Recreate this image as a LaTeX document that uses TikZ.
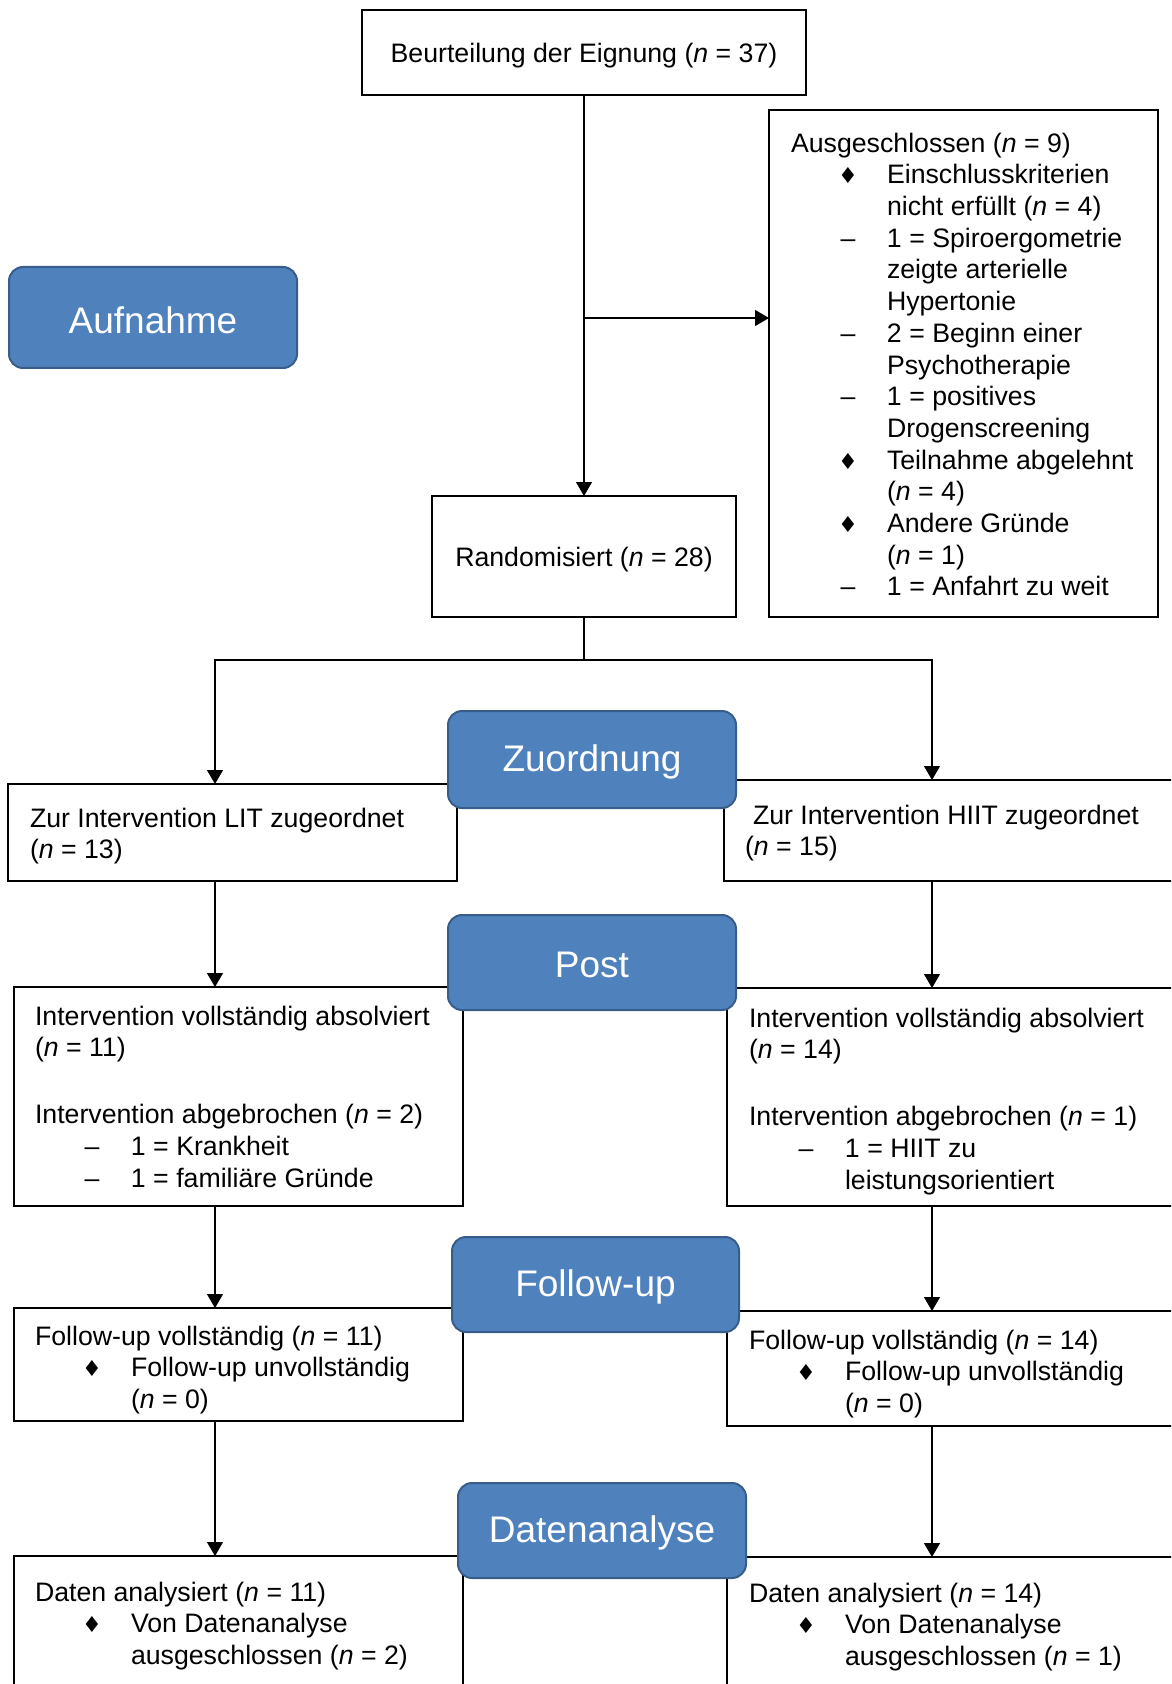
\documentclass[tikz,border=0pt]{standalone}
\usepackage{fontspec}
\setmainfont{Liberation Sans}
\newfontfamily\symf{DejaVu Sans}
\usetikzlibrary{arrows.meta}
\definecolor{stagefill}{HTML}{4F81BD}
\definecolor{stageline}{HTML}{385D8A}
\newcommand{\dia}{\hspace*{28.5pt}\makebox[0pt][c]{\symf\fontsize{11}{11}\selectfont ♦}\hspace*{19.5pt}}
\newcommand{\dsh}{\hspace*{28.5pt}\makebox[0pt][c]{–}\hspace*{19.5pt}}
\newcommand{\ind}{\hspace*{48pt}}
\newcommand{\nn}[1]{(\textit{n} = #1)}
\tikzset{
  box/.style={draw, line width=1.2pt, inner sep=0pt, outer sep=0pt, anchor=north west, fill=white},
  stage/.style={draw=stageline, line width=1pt, fill=stagefill, rounded corners=7pt, inner sep=0pt, outer sep=0pt,
    anchor=north west},
  stagetxt/.style={text=white, font=\fontsize{18.5}{22}\selectfont, inner sep=0pt, yshift=-1.3pt},
  ctxt/.style={font=\fontsize{13.35}{15.85}\selectfont, inner sep=0pt, yshift=-1.4pt},
  txt/.style={anchor=north west, inner sep=0pt, outer sep=0pt, align=left, font=\fontsize{13.35}{15.85}\selectfont},
  arr/.style={line width=0.6pt, -{Triangle[length=7pt,width=8pt]}},
  conn/.style={line width=0.6pt}
}
\begin{document}
\begin{tikzpicture}[x=0.5pt,y=-0.5pt]
\useasboundingbox (0,0) rectangle (1171,1684);
\clip (0,0) rectangle (1171,1684);
% boxes
\node[box, minimum width=222pt, minimum height=42.5pt] (top) at (362,10) {};
\node[ctxt] (toptxt) at (top.center) {Beurteilung der Eignung \nn{37}};
\node[box, minimum width=194.5pt, minimum height=253.5pt] (excl) at (769,110) {};
\node[box, minimum width=152pt, minimum height=60.5pt] (rand) at (432,496) {};
\node[ctxt] (randtxt) at (rand.center) {Randomisiert \nn{28}};
\node[box, minimum width=224.5pt, minimum height=48.5pt] (lit) at (8,784) {};
\node[box, minimum width=230pt, minimum height=50.5pt] (hiit) at (724,780) {};
\node[box, minimum width=224.5pt, minimum height=109.5pt] (postL) at (14,987) {};
\node[box, minimum width=230pt, minimum height=109pt] (postR) at (727,988) {};
\node[box, minimum width=224.5pt, minimum height=56.5pt] (fuL) at (14,1308) {};
\node[box, minimum width=230pt, minimum height=57.5pt] (fuR) at (727,1311) {};
\node[box, minimum width=224.5pt, minimum height=100pt] (daL) at (14,1556) {};
\node[box, minimum width=230pt, minimum height=100pt] (daR) at (727,1557) {};
% texts
\node[txt] (excltxt) at (791,130) {\strut Ausgeschlossen \nn{9}\\
\dia Einschlusskriterien\\
\ind nicht erfüllt \nn{4}\\
\dsh 1 = Spiroergometrie\\
\ind zeigte arterielle\\
\ind Hypertonie\\
\dsh 2 = Beginn einer\\
\ind Psychotherapie\\
\dsh 1 = positives\\
\ind Drogenscreening\\
\dia Teilnahme abgelehnt\\
\ind \nn{4}\\
\dia Andere Gründe\\
\ind \nn{1}\\
\dsh 1 = Anfahrt zu weit};
\node[txt] (littxt) at (30,805) {\strut Zur Intervention LIT zugeordnet\\ \nn{13}};
\node[txt] (hiittxt) at (745,802) {\strut\hspace*{4pt}Zur Intervention HIIT zugeordnet\\ \nn{15}};
\node[txt] (postLtxt) at (35,1003) {\strut Intervention vollständig absolviert\\ \nn{11}\\[17.5pt]
Intervention abgebrochen \nn{2}\\
\dsh 1 = Krankheit\\
\dsh 1 = familiäre Gründe};
\node[txt] (postRtxt) at (749,1005) {\strut Intervention vollständig absolviert\\ \nn{14}\\[17.5pt]
Intervention abgebrochen \nn{1}\\
\dsh 1 = HIIT zu\\
\ind leistungsorientiert};
\node[txt] (fuLtxt) at (35,1323) {\strut Follow-up vollständig \nn{11}\\
\dia Follow-up unvollständig\\
\ind \nn{0}};
\node[txt] (fuRtxt) at (749,1327) {\strut Follow-up vollständig \nn{14}\\
\dia Follow-up unvollständig\\
\ind \nn{0}};
\node[txt] (daLtxt) at (35,1579) {\strut Daten analysiert \nn{11}\\
\dia Von Datenanalyse\\
\ind ausgeschlossen \nn{2}};
\node[txt] (daRtxt) at (749,1580) {\strut Daten analysiert \nn{14}\\
\dia Von Datenanalyse\\
\ind ausgeschlossen \nn{1}};
% column coordinates
\coordinate (br) at (584,318);
\coordinate (colL) at (215,660);
\coordinate (colR) at (932,660);
% connectors
\draw[arr] (top.south) -- (rand.north);
\draw[arr] (br) -- (br -| excl.west);
\draw[arr] (rand.south) |- (colL) -- (colL |- lit.north);
\draw[arr] (rand.south) |- (colR) -- (colR |- hiit.north);
\draw[arr] (colL |- lit.south) -- (colL |- postL.north);
\draw[arr] (colR |- hiit.south) -- (colR |- postR.north);
\draw[arr] (colL |- postL.south) -- (colL |- fuL.north);
\draw[arr] (colR |- postR.south) -- (colR |- fuR.north);
\draw[arr] (colL |- fuL.south) -- (colL |- daL.north);
\draw[arr] (colR |- fuR.south) -- (colR |- daR.north);
% stage labels
\node[stage, minimum width=144pt, minimum height=50.5pt] (aufn) at (9,267) {};
\node[stagetxt] (aufntxt) at (aufn.center) {Aufnahme};
\node[stage, minimum width=144pt, minimum height=48.5pt] (zuord) at (448,711) {};
\node[stagetxt] (zuordtxt) at (zuord.center) {Zuordnung};
\node[stage, minimum width=144pt, minimum height=47.5pt] (post) at (448,915) {};
\node[stagetxt] (posttxt) at (post.center) {Post};
\node[stage, minimum width=143.5pt, minimum height=47.5pt] (fu) at (452,1237) {};
\node[stagetxt] (futxt) at (fu.center) {Follow-up};
\node[stage, minimum width=144pt, minimum height=47.5pt] (da) at (458,1483) {};
\node[stagetxt] (datxt) at (da.center) {Datenanalyse};
\end{tikzpicture}
\end{document}
